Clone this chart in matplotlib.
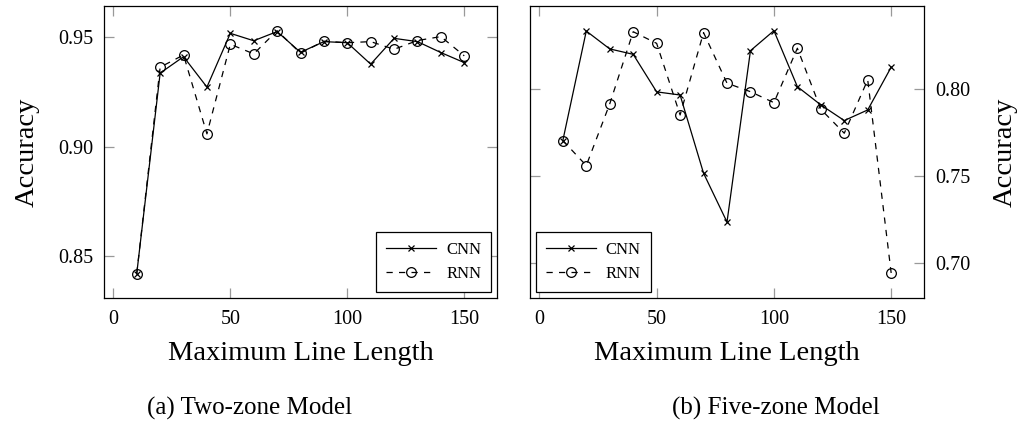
import matplotlib
matplotlib.use("Agg")
import matplotlib.pyplot as plt

plt.rcParams["font.family"] = ["Liberation Serif", "DejaVu Serif"]
plt.rcParams["mathtext.fontset"] = "stix"

# ── data ─────────────────────────────────────────────
line_len = [10, 20, 30, 40, 50, 60, 70, 80, 90, 100, 110, 120, 130, 140, 150]

two_cnn = [0.842, 0.9337, 0.9412, 0.9273, 0.9519, 0.9485, 0.9527, 0.9432,
           0.9481, 0.9476, 0.9378, 0.9496, 0.9481, 0.9431, 0.9385]
two_rnn = [0.842, 0.9364, 0.9420, 0.9059, 0.9469, 0.9425, 0.9531, 0.9428,
           0.9483, 0.9476, 0.9481, 0.9446, 0.9486, 0.9504, 0.9416]

five_cnn = [0.7706, 0.8336, 0.8233, 0.8202, 0.7986, 0.7968, 0.7518, 0.7237,
            0.8223, 0.8338, 0.8016, 0.7911, 0.7821, 0.7882, 0.8128]
five_rnn = [0.7706, 0.7562, 0.7917, 0.8332, 0.8265, 0.7853, 0.8327, 0.8036,
            0.7987, 0.7924, 0.8237, 0.7886, 0.7748, 0.8055, 0.6944]

x_ticks = [0, 50, 100, 150]
two_yticks = [0.85, 0.90, 0.95]
five_yticks = [0.70, 0.75, 0.80]

W, H = 1018, 425
fig = plt.figure(figsize=(W / 100, H / 100), dpi=100)
fig.patch.set_facecolor("white")


def _axes(px0, py0, px1, py1):
    return fig.add_axes([px0 / W, 1 - py1 / H, (px1 - px0) / W, (py1 - py0) / H])


def _style(ax, yticks, right=False):
    ax.set_xlim(-4, 164)
    ax.set_xticks(x_ticks)
    ax.set_yticks(yticks)
    ax.set_yticklabels([f"{v:.2f}" for v in yticks])
    ax.tick_params(direction="in", length=7.5, width=0.9, color="#999999",
                   labelsize=14.5, top=True, right=True, bottom=True, left=True,
                   labelcolor="black")
    ax.tick_params(axis="x", pad=9)
    ax.tick_params(axis="y", pad=8)
    for s in ax.spines.values():
        s.set_linewidth(0.9)
        s.set_color("black")
    if right:
        ax.yaxis.tick_right()
        ax.yaxis.set_ticks_position("both")
        ax.yaxis.set_label_position("right")
        ax.tick_params(axis="y", labelleft=False, labelright=True)
    ax.set_xlabel("Maximum Line Length", fontsize=20.5, labelpad=8)
    ax.set_ylabel("Accuracy", fontsize=20.5, labelpad=16 if right else 13)


def _plot(ax, cnn, rnn, loc):
    ax.plot(line_len, cnn, color="black", lw=0.9, marker="x", ms=4.5,
            mew=0.9, label="CNN")
    ax.plot(line_len, rnn, color="black", lw=0.9, ls=(0, (5, 5)), marker="o",
            ms=7, mfc="none", mew=0.9, label="RNN")
    leg = ax.legend(loc=loc, fontsize=12, numpoints=1, handlelength=3.0,
                    fancybox=False, framealpha=1, edgecolor="black",
                    borderaxespad=0.35, labelspacing=0.5, handletextpad=0.6,
                    borderpad=0.6)
    leg.get_frame().set_linewidth(0.9)


ax1 = _axes(104, 6, 497, 298)
_plot(ax1, two_cnn, two_rnn, "lower right")
ax1.set_ylim(0.8308, 0.9644)
_style(ax1, two_yticks)

ax2 = _axes(530, 6, 924, 298)
_plot(ax2, five_cnn, five_rnn, "lower left")
ax2.set_ylim(0.680, 0.848)
_style(ax2, five_yticks, right=True)

fig.text(250 / W, 1 - 408 / H, "(a) Two-zone Model", ha="center", va="center",
         fontsize=18)
fig.text(776 / W, 1 - 408 / H, "(b) Five-zone Model", ha="center", va="center",
         fontsize=18)

fig.savefig("out.png", dpi=100, facecolor="white")
plt.close(fig)
